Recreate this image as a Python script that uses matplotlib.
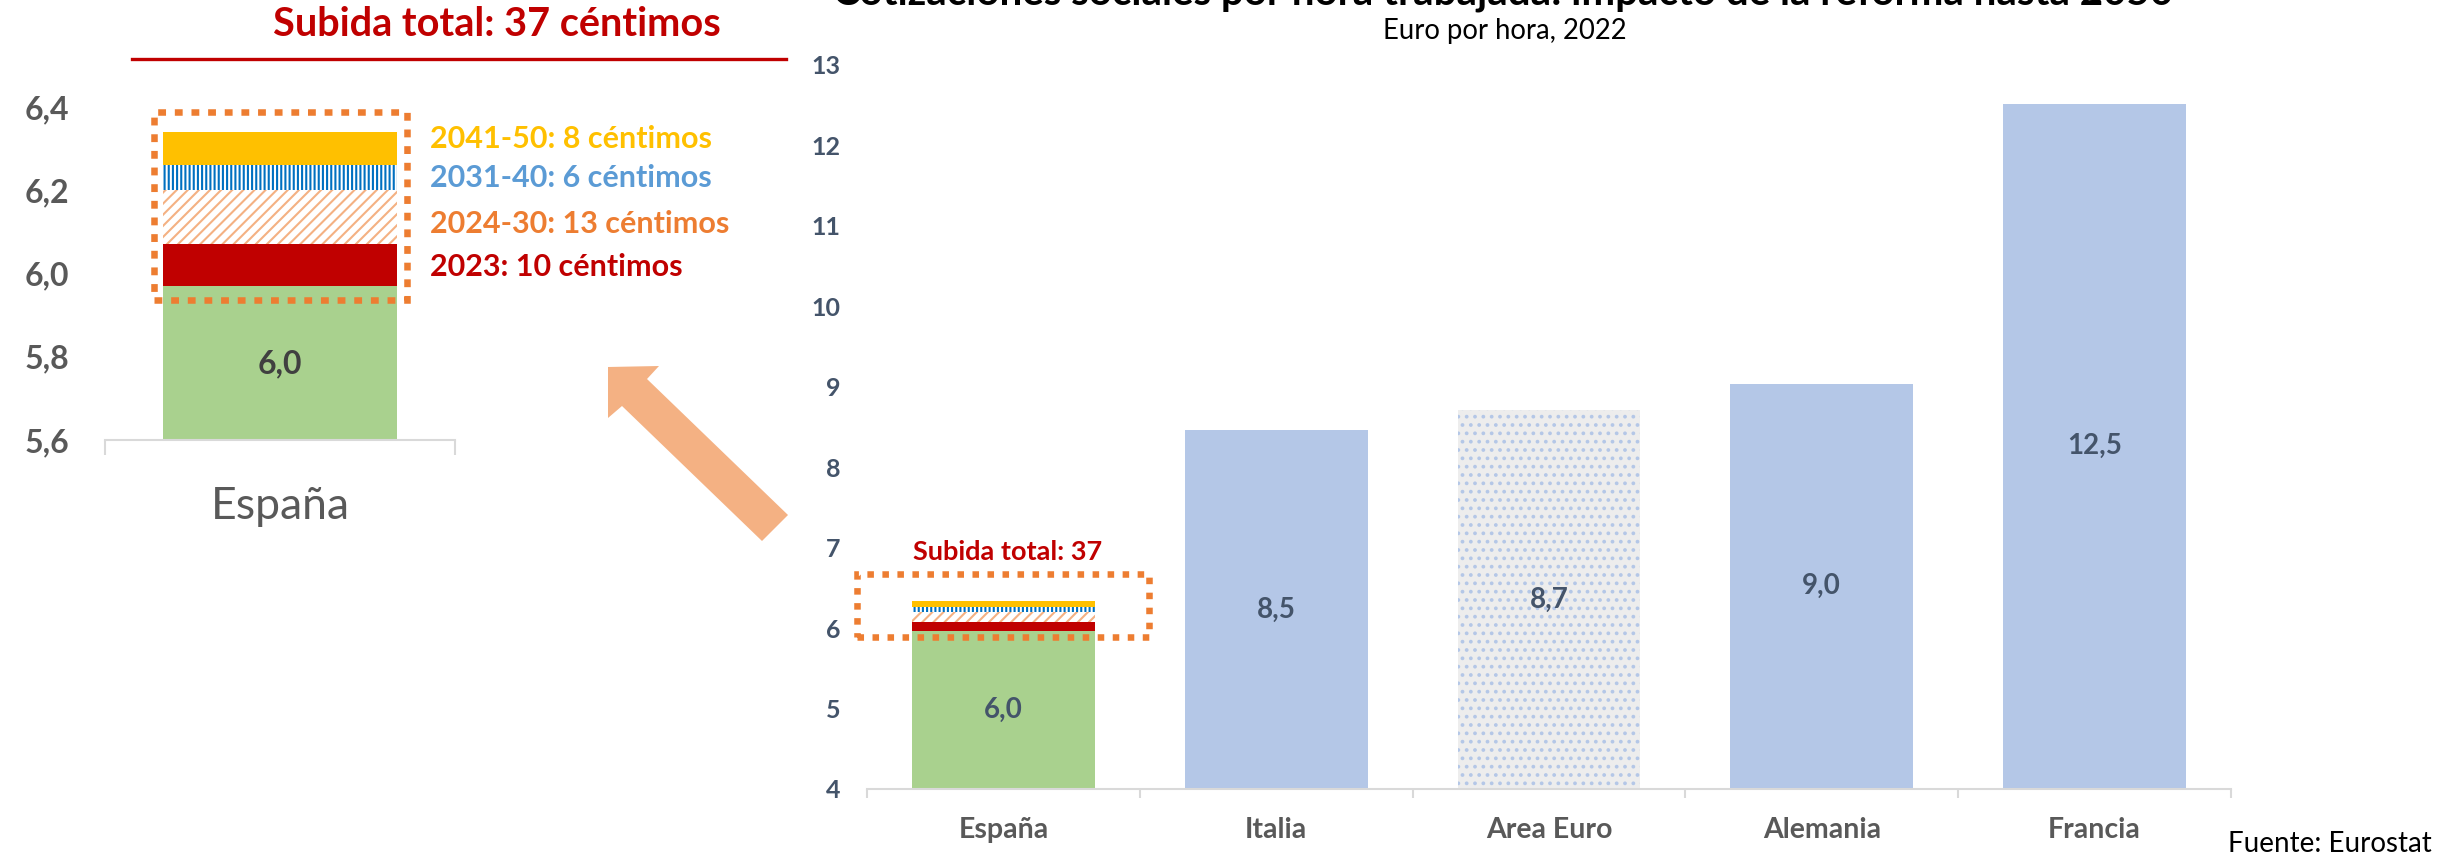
import matplotlib
matplotlib.use("Agg")
import matplotlib.pyplot as plt
from matplotlib.lines import Line2D
from matplotlib.patches import Polygon, Rectangle
from matplotlib.ticker import FuncFormatter

plt.rcParams["font.family"] = ["Lato", "DejaVu Sans"]
plt.rcParams["hatch.linewidth"] = 1.5

# --- data ---
countries = ["España", "Italia", "Area Euro", "Alemania", "Francia"]
hourly_contrib_2022 = [5.97, 8.46, 8.71, 9.04, 12.52]
reform_periods = ["2023", "2024-30", "2031-40", "2041-50"]
reform_cents = [10, 13, 6, 8]

# --- colours ---
GREEN = "#A9D18E"
LIGHT_BLUE = "#B4C7E7"
AREA_GREY = "#EDEDED"
RED = "#C00000"
YELLOW = "#FFC000"
DARK_BLUE = "#0070C0"
PEACH = "#F4B183"
ORANGE = "#ED7D31"
AXIS_GREY = "#D9D9D9"
TEXT_GREY = "#595959"
SLATE = "#44546A"

segment_styles = [
    dict(color=RED),
    dict(facecolor="white", edgecolor=PEACH, hatch="///"),
    dict(facecolor="white", edgecolor=DARK_BLUE, hatch="||||"),
    dict(color=YELLOW),
]
legend_colors = [RED, ORANGE, "#5B9BD5", YELLOW]

W, H = 2440, 856


def fig_xy(x, y):
    """Pixel position (top-left origin) -> figure fraction."""
    return x / W, 1 - y / H


def comma(v, _=None):
    return f"{v:.1f}".replace(".", ",")


def draw_reform_stack(ax, x, base, width):
    bottom = base
    for cents, style in zip(reform_cents, segment_styles):
        h = cents / 100
        ax.bar(x, h, bottom=bottom, width=width, linewidth=0, **style)
        bottom += h
    return bottom


def style_axis(ax, tick_len):
    for side in ("top", "right", "left"):
        ax.spines[side].set_visible(False)
    ax.spines["bottom"].set_color(AXIS_GREY)
    ax.spines["bottom"].set_linewidth(1.5)
    ax.tick_params(axis="y", length=0)
    ax.tick_params(axis="x", which="major", length=0)
    ax.tick_params(axis="x", which="minor", length=tick_len, width=1.5,
                   color=AXIS_GREY)


fig = plt.figure(figsize=(W / 100, H / 100), dpi=100)
total_cents = sum(reform_cents)
spain_base = hourly_contrib_2022[0]

# ---------------- left: zoom on Spain ----------------
axl = fig.add_axes([105 / W, 1 - 440 / H, 350 / W, 333 / H])
axl.bar(0, spain_base, width=0.666, color=GREEN, linewidth=0)
draw_reform_stack(axl, 0, spain_base, 0.666)
axl.set_xlim(-0.5, 0.5)
axl.set_ylim(5.6, 6.4)
axl.set_yticks([5.6, 5.8, 6.0, 6.2, 6.4])
axl.yaxis.set_major_formatter(FuncFormatter(comma))
axl.set_xticks([0])
axl.set_xticklabels([countries[0]], fontsize=32, color=TEXT_GREY)
axl.set_xticks([-0.5, 0.5], minor=True)
style_axis(axl, 11)
axl.tick_params(axis="y", labelsize=23, labelcolor=TEXT_GREY, pad=26)
axl.tick_params(axis="x", which="major", pad=33)
for lab in axl.get_yticklabels():
    lab.set_fontweight("bold")

axl.text(0, 5.783, comma(spain_base), ha="center", va="center",
         fontsize=23, fontweight="bold", color="#404040")
axl.add_patch(Rectangle((-0.36, 5.936), 0.723, 0.452, fill=False,
                        edgecolor=ORANGE, linewidth=4.7,
                        linestyle=(0, (1.2, 1.35)), clip_on=False))

legend_y = [6.016, 6.120, 6.229, 6.323]
for period, cents, col, ly in zip(reform_periods, reform_cents,
                                  legend_colors, legend_y):
    axl.text(0.43, ly, f"{period}: {cents} céntimos", ha="left", va="center",
             fontsize=22, fontweight="bold", color=col, clip_on=False)

fig.text(*fig_xy(497, 24), f"Subida total: {total_cents} céntimos",
         ha="center", va="center", fontsize=28.5, fontweight="bold", color=RED)
fig.add_artist(Line2D([132 / W, 786 / W], [1 - 59 / H, 1 - 59 / H],
                      color=RED, linewidth=2.4, transform=fig.transFigure))

# arrow pointing from the main chart to the zoom panel
arrow_px = [(608, 367), (659, 366), (647, 379), (788, 515),
            (762, 541), (622, 406), (608, 418)]
fig.add_artist(Polygon([fig_xy(x, y) for x, y in arrow_px], closed=True,
                       facecolor=PEACH, edgecolor="none",
                       transform=fig.transFigure))

# ---------------- right: country comparison ----------------
axr = fig.add_axes([867 / W, 1 - 789 / H, 1364 / W, 724 / H])
xpos = list(range(len(countries)))
bar_w = 0.67
for x, name, val in zip(xpos, countries, hourly_contrib_2022):
    if name == "España":
        axr.bar(x, val, width=bar_w, color=GREEN, linewidth=0)
        draw_reform_stack(axr, x, val, bar_w)
    elif name == "Area Euro":
        axr.bar(x, val, width=bar_w, facecolor=AREA_GREY,
                edgecolor=LIGHT_BLUE, hatch="..", linewidth=0)
    else:
        axr.bar(x, val, width=bar_w, color=LIGHT_BLUE, linewidth=0)
    axr.text(x, (4 + val) / 2, comma(val), ha="center", va="center",
             fontsize=20, fontweight="bold", color=SLATE)

axr.set_xlim(-0.5, len(countries) - 0.5)
axr.set_ylim(4, 13)
axr.set_yticks(range(4, 14))
axr.set_xticks(xpos)
axr.set_xticklabels(countries, fontsize=20.5, fontweight="bold",
                    color=TEXT_GREY)
axr.set_xticks([i - 0.5 for i in range(len(countries) + 1)], minor=True)
style_axis(axr, 6.5)
axr.tick_params(axis="y", labelsize=18, labelcolor=SLATE, pad=19)
axr.tick_params(axis="x", which="major", pad=20)
for lab in axr.get_yticklabels():
    lab.set_fontweight("bold")

axr.add_patch(Rectangle((-0.537, 5.89), 1.07, 0.783, fill=False,
                        edgecolor=ORANGE, linewidth=4.7,
                        linestyle=(0, (1.0, 1.3)), clip_on=False))
axr.text(0.015, 6.946, f"Subida total: {total_cents}", ha="center",
         va="center", fontsize=19.5, fontweight="bold", color=RED)

fig.text(*fig_xy(1503, 4),
         "Cotizaciones sociales por hora trabajada: impacto de la reforma hasta 2050",
         ha="center", va="baseline", fontsize=29, fontweight="bold",
         color="black")
fig.text(*fig_xy(1505, 31), "Euro por hora, 2022", ha="center", va="center",
         fontsize=19.8, color="black")
fig.text(*fig_xy(2228, 852), "Fuente: Eurostat", ha="left", va="baseline",
         fontsize=20, color="black")

fig.savefig("out.png", dpi=100)
